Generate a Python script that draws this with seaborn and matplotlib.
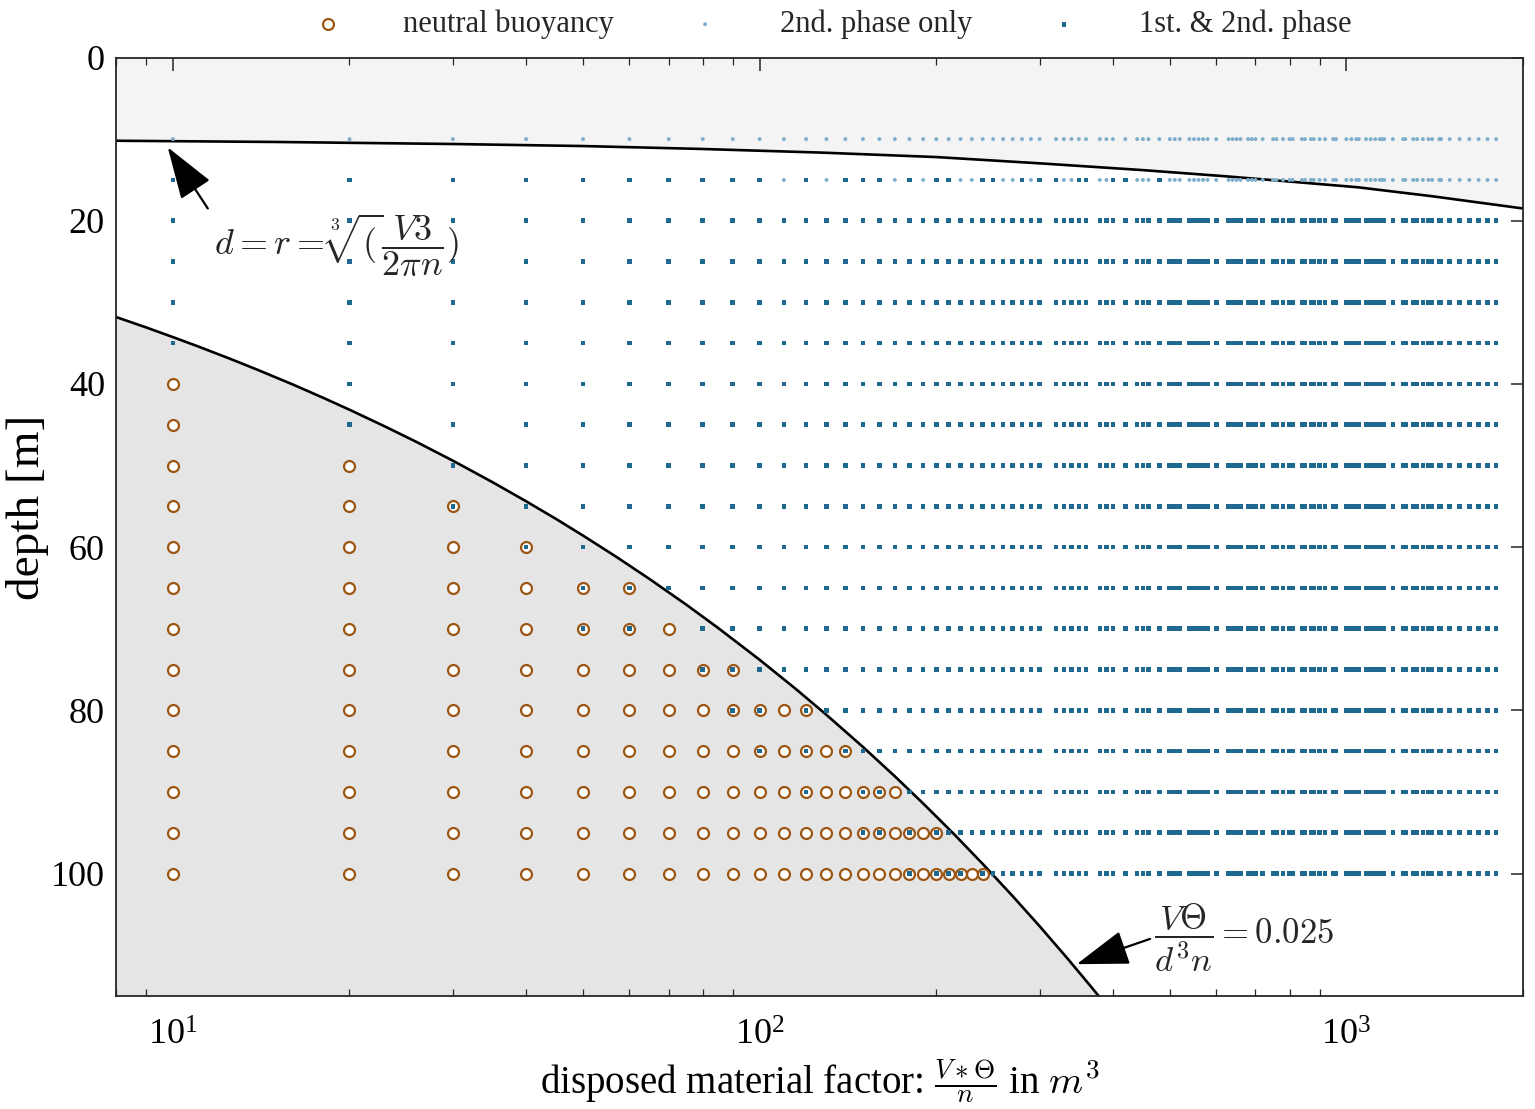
import matplotlib
matplotlib.use("Agg")
import matplotlib.pyplot as plt
from matplotlib.ticker import LogLocator, NullFormatter
import numpy as np
import pandas as pd
import seaborn as sns

# ---------------- data ----------------
x_values = [10, 20, 30, 40, 50, 60, 70, 80, 90, 100, 110, 120, 130, 140, 150,
            160, 170, 180, 190, 200, 210, 220, 230, 240, 250, 260, 270, 280, 290,
            300, 320, 330, 340, 350, 360, 380, 390, 400, 420, 440, 450, 460, 480,
            500, 510, 520, 540, 550, 560, 570, 580, 600, 630, 640, 650, 660, 680,
            690, 700, 720, 750, 760, 780, 800, 810, 840, 850, 870, 880, 900, 920,
            950, 960, 1000, 1020, 1040, 1050, 1080, 1100, 1120, 1140, 1150, 1160,
            1200, 1250, 1260, 1300, 1320, 1350, 1380, 1400, 1440, 1450, 1500,
            1560, 1620, 1680, 1740, 1800]
depths = [10, 15, 20, 25, 30, 35, 40, 45, 50, 55, 60, 65, 70, 75, 80, 85, 90, 95, 100]

# at 15 m these x values are "1st & 2nd phase", the rest "2nd phase only"
dark15_x = [10, 20, 30, 40, 50, 60, 70, 80, 90, 100, 120, 140, 150, 160, 180,
            200, 210, 240, 250, 280, 300, 320, 350, 360, 400, 420, 480]

# neutral buoyancy: shallowest depth with a circle for each x column
nb_x = [10, 20, 30, 40, 50, 60, 70, 80, 90, 100, 110, 120, 130, 140, 150, 160,
        170, 180, 190, 200, 210, 220, 230, 240]
nb_top = [40, 50, 55, 60, 65, 65, 70, 75, 75, 80, 80, 80, 85, 85, 90, 90, 90,
          95, 95, 95, 100, 100, 100, 100]
# circles that also carry a "1st & 2nd phase" dot
ov_x = [30, 40, 50, 50, 60, 60, 80, 90, 90, 100, 100, 120, 120, 120, 140, 150,
        150, 160, 160, 180, 180, 200, 200, 210, 220, 240]
ov_d = [55, 60, 65, 70, 65, 70, 75, 75, 80, 80, 85, 80, 85, 90, 85, 90, 95, 90,
        95, 95, 100, 95, 100, 100, 100, 100]

# boundary curves
upper_x = [8, 15, 30, 50, 79, 127, 200, 305, 450, 621, 800, 1045, 1400, 2000]
upper_d = [10.2, 10.35, 10.6, 10.85, 11.2, 11.65, 12.2, 13.0, 13.8, 14.55,
           15.2, 15.9, 17.0, 18.5]
lower_x = [8, 9, 10, 11, 12.5, 14, 16, 18, 20, 23, 26, 30, 35, 40, 45, 50, 57,
           65, 75, 85, 100, 115, 130, 150, 170, 190, 215, 240, 270, 300, 335,
           370, 400]
lower_d = [31.8, 33.07, 34.26, 35.36, 36.9, 38.32, 40.06, 41.67, 43.16, 45.22,
           47.1, 49.4, 52.01, 54.38, 56.55, 58.58, 61.19, 63.93, 67.05, 69.91,
           73.8, 77.32, 80.55, 84.48, 88.08, 91.41, 95.25, 98.81, 102.77,
           106.44, 110.43, 114.15, 117.15]

labels = ["neutral buoyancy", "2nd. phase only", "1st. & 2nd. phase"]

# ---------------- build point tables ----------------
nb_map = dict(zip(nb_x, nb_top))
ov_set = set(zip(ov_x, ov_d))

light_pts = [(x, 10) for x in x_values] + [(x, 15) for x in x_values if x not in dark15_x]
dark_pts = [(x, 15) for x in dark15_x]
for x in x_values:
    for d in depths:
        if d < 20:
            continue
        if x in nb_map and d >= nb_map[x] and (x, d) not in ov_set:
            continue
        dark_pts.append((x, d))
nb_pts = [(x, d) for x, top in zip(nb_x, nb_top) for d in depths if d >= top]

df_light = pd.DataFrame(light_pts, columns=["x", "d"])
df_dark = pd.DataFrame(dark_pts, columns=["x", "d"])
df_nb = pd.DataFrame(nb_pts, columns=["x", "d"])

# ---------------- style ----------------
sns.set_theme(style="white")
plt.rcParams["font.family"] = ["Liberation Serif", "DejaVu Serif"]
plt.rcParams["mathtext.fontset"] = "cm"
plt.rcParams["axes.unicode_minus"] = False

W, H = 1535, 1109
fig = plt.figure(figsize=(W / 100, H / 100), dpi=100)
ax = fig.add_axes([116 / W, 1 - 996 / H, (1523 - 116) / W, (996 - 57.5) / H])

brown = "#9c5512"
light_c = "#7eaecb"
dark_c = "#1f6990"

# shaded regions
ax.fill_between(upper_x, 0, upper_d, color="#f4f4f4", zorder=0, linewidth=0)
ax.fill_between(lower_x, lower_d, 200, color="#e5e5e5", zorder=0, linewidth=0)
ax.plot(upper_x, upper_d, color="black", lw=1.9, zorder=1)
ax.plot(lower_x, lower_d, color="black", lw=1.9, zorder=1)

sns.scatterplot(data=df_nb, x="x", y="d", ax=ax, marker="o", s=62,
                color="white", edgecolor=brown, linewidth=1.6,
                label=labels[0], zorder=3, legend=False)
sns.scatterplot(data=df_light, x="x", y="d", ax=ax, marker="o", s=8,
                color=light_c, edgecolor="none", linewidth=0,
                label=labels[1], zorder=4, legend=False)
sns.scatterplot(data=df_dark, x="x", y="d", ax=ax, marker="s", s=11,
                color=dark_c, edgecolor="none", linewidth=0,
                label=labels[2], zorder=5, legend=False)

ax.set_xscale("log")
ax.set_xlim(8, 2000)
ax.set_ylim(115, 0)
ax.set_yticks([0, 20, 40, 60, 80, 100])
ax.xaxis.set_major_locator(LogLocator(base=10, numticks=10))
ax.xaxis.set_minor_locator(LogLocator(base=10, subs=np.arange(2, 10), numticks=20))
ax.xaxis.set_minor_formatter(NullFormatter())

for s in ax.spines.values():
    s.set_color("#262626")
    s.set_linewidth(1.3)
ax.tick_params(axis="both", which="major", direction="in", length=9, width=1.1,
               colors="#262626", top=True, right=True, labelsize=26)
ax.tick_params(axis="x", which="minor", direction="in", length=5, width=0.9,
               colors="#262626", top=True, bottom=True)
ax.tick_params(axis="x", which="major", pad=17)
ax.tick_params(axis="y", which="major", pad=8)
for lab in ax.get_xticklabels() + ax.get_yticklabels():
    lab.set_color("black")

ax.set_xlabel(r"disposed material factor: $\frac{V\ast\Theta}{n}$ in $m^3$",
              fontsize=28, color="black")
ax.xaxis.set_label_coords(0.5, -0.0645)
ax.set_ylabel("depth [m]", fontsize=34, color="black")
ax.yaxis.set_label_coords(-0.0475, 0.521)

# annotations
astyle = "-|>,head_length=0.6,head_width=0.2"
ax.annotate("", xy=(9.8, 11.0), xytext=(11.47, 18.5),
            arrowprops=dict(arrowstyle=astyle, color="black", lw=1.6,
                            mutation_scale=55, shrinkA=0, shrinkB=0), zorder=6)
ax.text(19.0, 23.0, r"$d = r = \sqrt[3]{(}\dfrac{V3}{2\pi n})$", fontsize=26,
        ha="center", va="center", zorder=6)
ax.annotate("", xy=(347, 111.1), xytext=(463, 108.0),
            arrowprops=dict(arrowstyle=astyle, color="black", lw=1.6,
                            mutation_scale=55, shrinkA=0, shrinkB=0), zorder=6)
ax.text(470, 107.8, r"$\dfrac{V\Theta}{d^3n} = 0.025$", fontsize=25,
        ha="left", va="center", zorder=6)

handles, labs = ax.get_legend_handles_labels()
if ax.get_legend() is not None:
    ax.get_legend().remove()
fig.legend(handles, labs, loc="upper center", bbox_to_anchor=(0.532, 1.016),
           ncol=3, frameon=False, fontsize=22, handlelength=3.0,
           handletextpad=0.95, columnspacing=1.5, markerscale=1.0)

fig.savefig("out.png", dpi=100)
